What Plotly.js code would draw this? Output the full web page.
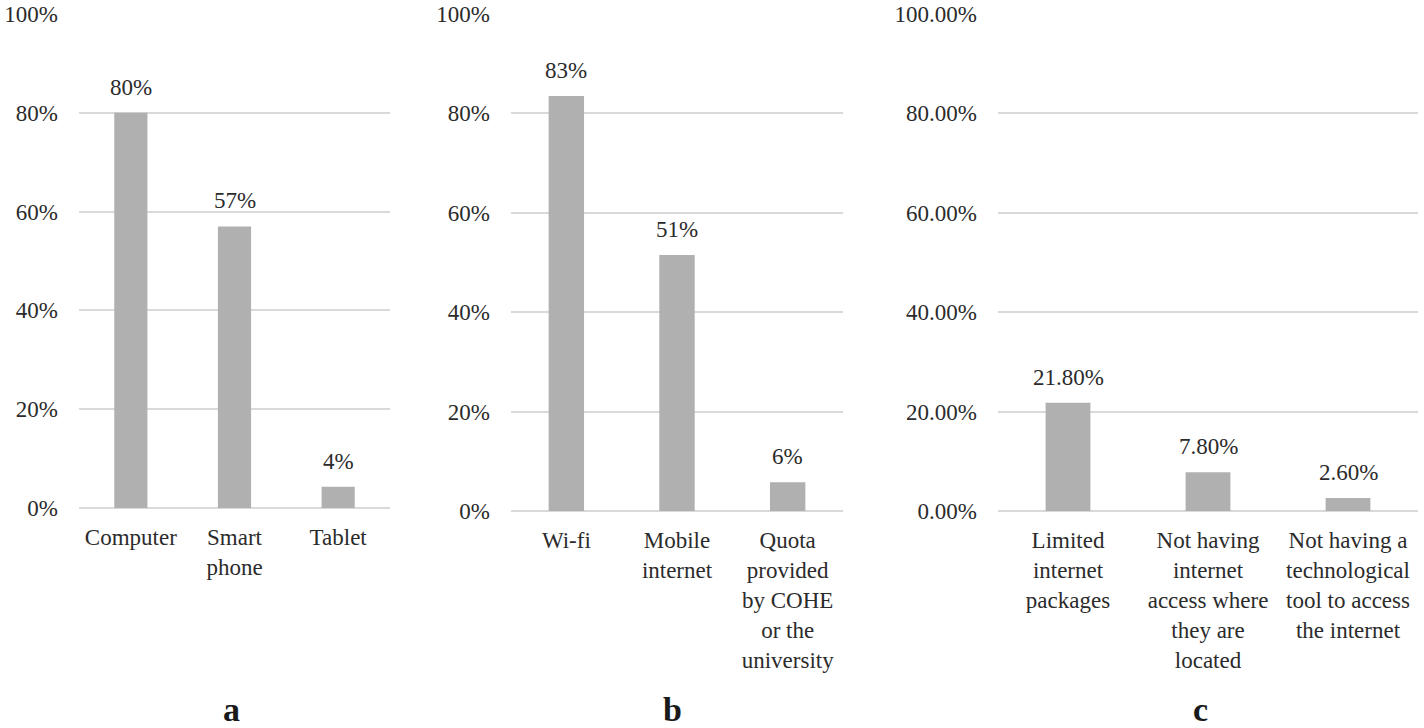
<!DOCTYPE html>
<html>
<head>
<meta charset="utf-8">
<script src="https://cdn.plot.ly/plotly-3.0.1.min.js"></script>
<style>html,body{margin:0;padding:0;background:#fff;}#chart{width:1424px;height:728px;}</style>
</head>
<body>
<div id="chart"></div>
<script>
// Panel a: devices
const catsA = ["Computer", "Smart<br>phone", "Tablet"];
const valsA = [80, 57, 4.3];
const labelsA = ["80%", "57%", "4%"];
// Panel b: connection types
const catsB = ["Wi-fi", "Mobile<br>internet", "Quota<br>provided<br>by COHE<br>or the<br>university"];
const valsB = [83.5, 51.5, 5.8];
const labelsB = ["83%", "51%", "6%"];
// Panel c: problems
const catsC = ["Limited<br>internet<br>packages", "Not having<br>internet<br>access where<br>they are<br>located", "Not having a<br>technological<br>tool to access<br>the internet"];
const valsC = [21.8, 7.8, 2.6];
const labelsC = ["21.80%", "7.80%", "2.60%"];
const tickValsY = [0, 20, 40, 60, 80, 100];
const tickTextAB = ["0%", "20%", "40%", "60%", "80%", "100%"];
const tickTextC = ["0.00%", "20.00%", "40.00%", "60.00%", "80.00%", "100.00%"];
const panelLetters = ["a", "b", "c"];

const W = 1424, H = 728;
const FONT = "Liberation Serif";
const FS = 23;
const TXT = "#2b2b2b";
const BAR = "#b0b0b0";
const GRID = "#d9d9d9";

const panels = [
  {cats: catsA, vals: valsA, labels: labelsA, ticktext: tickTextAB, x0: 79, x1: 390, y0: 508, letterX: 231},
  {cats: catsB, vals: valsB, labels: labelsB, ticktext: tickTextAB, x0: 511, x1: 843, y0: 511, letterX: 672},
  {cats: catsC, vals: valsC, labels: labelsC, ticktext: tickTextC, x0: 998, x1: 1418, y0: 511, letterX: 1200}
];

const data = [];
const layout = {
  width: W, height: H,
  margin: {l: 0, r: 0, t: 0, b: 0},
  paper_bgcolor: "#fff", plot_bgcolor: "#fff",
  showlegend: false,
  bargap: 0.68,
  font: {family: FONT, size: FS, color: TXT},
  annotations: []
};

panels.forEach((p, i) => {
  const n = i === 0 ? "" : String(i + 1);
  data.push({
    type: "bar",
    x: p.cats, y: p.vals,
    xaxis: "x" + n, yaxis: "y" + n,
    marker: {color: BAR},
    hoverinfo: "skip"
  });
  layout["xaxis" + n] = {
    domain: [p.x0 / W, p.x1 / W],
    anchor: "y" + n,
    type: "category",
    showgrid: false, zeroline: false, showline: false,
    ticks: "", ticklabelstandoff: 13,
    tickfont: {family: FONT, size: FS, color: TXT},
    fixedrange: true
  };
  layout["yaxis" + n] = {
    domain: [1 - p.y0 / H, 1 - 14 / H],
    anchor: "x" + n,
    range: [0, 100],
    tickvals: tickValsY, ticktext: p.ticktext,
    showgrid: true, gridcolor: GRID, gridwidth: 2,
    zeroline: true, zerolinecolor: GRID, zerolinewidth: 2,
    showline: false, ticks: "", ticklabelstandoff: 20,
    tickfont: {family: FONT, size: FS, color: TXT},
    fixedrange: true
  };
  p.cats.forEach((c, j) => {
    layout.annotations.push({
      xref: "x" + n, yref: "y" + n,
      x: c, y: p.vals[j],
      text: p.labels[j],
      showarrow: false,
      yanchor: "bottom",
      yshift: 11,
      font: {family: FONT, size: FS, color: TXT}
    });
  });
  layout.annotations.push({
    xref: "paper", yref: "paper",
    x: p.letterX / W, y: 1 - 709 / H,
    xanchor: "center", yanchor: "middle",
    text: "<b>" + panelLetters[i] + "</b>",
    showarrow: false,
    font: {family: FONT, size: 34, color: "#1a1a1a"}
  });
});

Plotly.newPlot("chart", data, layout, {displayModeBar: false, staticPlot: true});
</script>
</body>
</html>
